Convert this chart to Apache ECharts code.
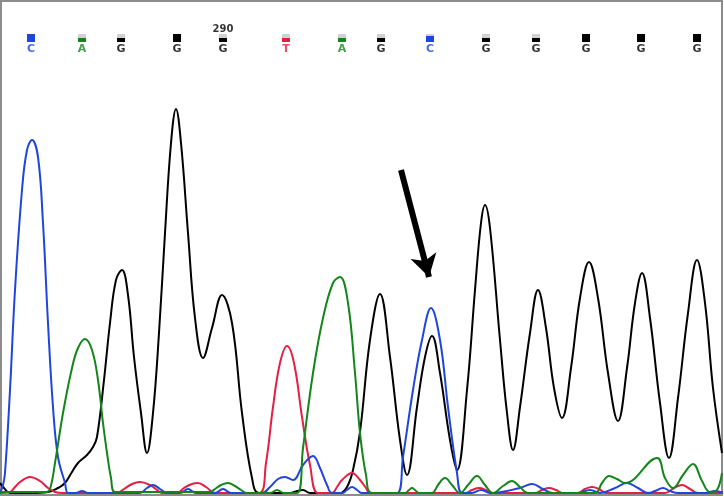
<!DOCTYPE html>
<html>
<head>
<meta charset="utf-8">
<style>
  html, body { margin: 0; padding: 0; background: #fff; }
  #chart { width: 724px; height: 496px; }
</style>
<script src="https://cdn.jsdelivr.net/npm/echarts@6/dist/echarts.min.js"></script>
</head>
<body>
<div id="chart"></div>
<script>
// ---- Data (x = scan position, value = signal height) ----
const blackTrace = [[0,10],[4,5],[10,0],[30,0],[48,1],[58,5],[65,10],[72,21],[78,30],[87,38],[93,46],[97,56],[104,113],[110,170],[116,213],[122,223],[128,198],[134,136],[141,80],[147,40],[153,80],[159,160],[165,260],[171,350],[176,384],[181,350],[188,260],[195,175],[203,135],[212,165],[222,198],[232,170],[242,80],[252,15],[259,0],[290,0],[297,2],[303,3],[310,0],[340,0],[347,6],[353,23],[360,61],[370,153],[380,199],[390,136],[400,53],[407,18],[417,86],[425,136],[432,157],[440,120],[450,53],[457,23],[467,103],[475,203],[481,270],[485,288],[490,265],[500,153],[507,80],[513,43],[520,86],[530,160],[538,203],[546,165],[554,105],[562,75],[571,125],[580,195],[589,231],[598,195],[608,120],[618,72],[627,125],[635,190],[642,220],[650,175],[660,90],[669,35],[678,95],[688,180],[697,233],[705,190],[713,105],[722,40]];
const redTrace = [[0,0],[10,1],[15,6],[20,11],[30,16],[40,12],[48,5],[55,1],[63,0],[117,0],[124,4],[132,9],[140,11],[150,8],[157,3],[162,0],[177,0],[184,5],[192,9],[198,10],[206,6],[215,0],[259,0],[266,30],[273,86],[280,130],[287,147],[294,130],[302,76],[310,28],[318,0],[332,0],[337,6],[342,13],[352,20],[360,13],[366,5],[370,0],[465,0],[472,3],[479,5],[486,3],[492,0],[535,0],[542,3],[549,5],[556,3],[563,0],[578,0],[585,4],[592,6],[599,4],[606,0],[665,0],[674,5],[682,8],[690,4],[698,0],[724,0]];
const blueTrace = [[0,0],[3,8],[5,20],[10,103],[15,203],[22,303],[27,343],[32,353],[38,336],[43,270],[48,170],[53,86],[58,36],[65,10],[68,0],[76,0],[82,2],[88,0],[140,0],[147,5],[153,8],[160,4],[167,0],[180,0],[188,4],[196,0],[215,0],[223,4],[231,0],[262,0],[270,6],[278,14],[285,16],[293,13],[303,28],[313,37],[320,25],[327,8],[332,0],[342,0],[347,3],[352,6],[357,3],[362,0],[397,0],[403,36],[413,103],[422,153],[431,185],[440,153],[448,86],[457,20],[462,0],[472,0],[481,3],[490,0],[520,5],[532,9],[543,4],[553,0],[578,0],[590,3],[600,0],[615,5],[627,10],[638,5],[648,0],[655,2],[663,5],[670,2],[678,0],[705,0],[715,2],[724,0]];
const greenTrace = [[0,1],[46,1],[50,4],[55,30],[63,80],[72,125],[78,145],[85,154],[92,143],[98,113],[103,70],[107,40],[111,15],[115,1],[210,1],[215,4],[221,8],[228,10],[235,7],[241,3],[247,0],[270,0],[277,3],[284,0],[297,0],[303,45],[313,120],[323,175],[333,210],[340,216],[348,190],[355,120],[360,60],[366,18],[372,0],[405,0],[409,3],[412,5],[415,3],[419,0],[432,0],[438,8],[445,15],[452,8],[460,0],[468,8],[477,17],[485,8],[493,0],[503,7],[512,12],[520,6],[528,0],[595,0],[602,10],[609,17],[617,14],[625,10],[657,35],[665,15],[673,5],[683,18],[693,29],[702,12],[710,1],[716,2],[722,20]];

const basePositions = [31, 82, 121, 177, 223, 286, 342, 381, 430, 486, 536, 586, 641, 697];
const baseCalls     = ['C','A','G','G','G','T','A','G','C','G','G','G','G','G'];
const baseQuality   = [1, 0.5, 0.5, 1, 0.5, 0.5, 0.5, 0.5, 0.75, 0.5, 0.5, 1, 1, 1];
const positionLabelIndex = 4;
const positionLabelText = '290';
const arrowFrom = [401, 323];
const arrowTo = [429, 216];

// ---- Styling ----
const baseColor = { A: '#13861a', C: '#1f45dc', G: '#000000', T: '#e51e43' };
const SQUARE_V = 455, LETTER_V = 444, POSLABEL_V = 464;

const traceSeries = (data, color) => ({
  type: 'line', data: data, symbol: 'none', smooth: 0.4,
  lineStyle: { color: color, width: 2 }, silent: true, z: 2
});

const chart = echarts.init(document.getElementById('chart'), null, { renderer: 'canvas' });
chart.setOption({
  animation: false,
  backgroundColor: '#ffffff',
  grid: { left: 1, right: 2, top: 1, bottom: 1, show: true, borderColor: '#8c8c8c', borderWidth: 2, backgroundColor: 'transparent' },
  xAxis: { type: 'value', min: 1, max: 722, show: false },
  yAxis: { type: 'value', min: -2, max: 492, show: false },
  series: [
    Object.assign(traceSeries(blackTrace, baseColor.G), {
      markLine: {
        silent: true, animation: false,
        symbol: ['none', 'arrow'], symbolSize: [20, 22],
        lineStyle: { color: '#000', width: 6, type: 'solid', cap: 'butt' },
        label: { show: false },
        data: [[{ coord: arrowFrom }, { coord: arrowTo }]]
      }
    }),
    traceSeries(redTrace, baseColor.T),
    traceSeries(blueTrace, baseColor.C),
    traceSeries(greenTrace, baseColor.A),
    { // quality background squares
      type: 'scatter', symbol: 'rect', symbolSize: [8, 8], silent: true, z: 3,
      itemStyle: { color: '#c6c6c6' },
      data: basePositions.map(x => [x, SQUARE_V])
    },
    { // coloured part of quality squares
      type: 'scatter', symbol: 'rect', silent: true, z: 4,
      data: basePositions.map((x, i) => ({
        value: [x, SQUARE_V],
        symbolSize: [8, 8 * baseQuality[i]],
        symbolOffset: [0, 4 * (1 - baseQuality[i])],
        itemStyle: { color: baseColor[baseCalls[i]], opacity: 1 }
      }))
    },
    { // base call letters
      type: 'scatter', symbolSize: 0, silent: true, z: 5,
      data: basePositions.map((x, i) => ({
        value: [x, LETTER_V],
        label: { show: true, position: 'inside', formatter: baseCalls[i], color: baseColor[baseCalls[i]],
                 fontFamily: 'DejaVu Sans', fontWeight: 'bold', fontSize: 11 }
      }))
    },
    { // position number
      type: 'scatter', symbolSize: 0, silent: true, z: 5,
      data: [{
        value: [basePositions[positionLabelIndex], POSLABEL_V],
        label: { show: true, position: 'inside', formatter: positionLabelText, color: '#000',
                 fontFamily: 'DejaVu Sans', fontWeight: 'bold', fontSize: 10 }
      }]
    }
  ]
});
</script>
</body>
</html>
